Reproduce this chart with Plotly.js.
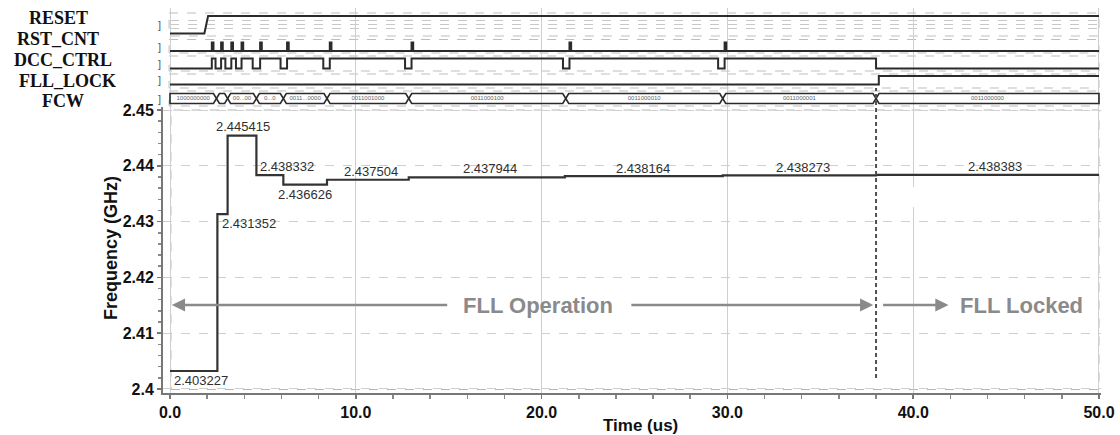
<!DOCTYPE html>
<html><head><meta charset="utf-8">
<script src="https://cdn.plot.ly/plotly-3.0.1.min.js"></script>
<style>html,body{margin:0;padding:0;background:#fff}#chart{width:1120px;height:435px}</style>
</head><body><div id="chart"></div>
<script>
// ---------------- data ----------------
const stepTimes = [0, 2.55, 3.1, 4.65, 6.1, 8.45, 12.85, 21.25, 29.75, 38.0, 50];
const freqGHz   = [2.403227, 2.431352, 2.445415, 2.438332, 2.436626, 2.437504, 2.437944, 2.438164, 2.438273, 2.438383, 2.438383];

const resetTimes  = [0, 1.85, 2.05, 50];
const resetLevels = [0, 0, 1, 1];

const rstCntPulseTimes = [2.25, 2.75, 3.3, 3.85, 4.85, 6.3, 8.6, 13.0, 21.5, 29.85];

const dccTimes  = [0, 2.25, 2.45, 2.75, 2.98, 3.3, 3.55, 3.85, 4.45, 4.85, 5.95, 6.3, 8.25, 8.6, 12.65, 13.0, 21.15, 21.5, 29.5, 29.85, 38.0, 50];
const dccLevels = [0, 1, 0, 1, 0, 1, 0, 1, 0, 1, 0, 1, 0, 1, 0, 1, 0, 1, 0, 1, 0, 0];

const fllLockTimes  = [0, 38.15, 50];
const fllLockLevels = [0, 1, 1];

const fcwEdges = [0, 2.5, 3.1, 4.65, 6.1, 8.45, 12.85, 21.3, 29.75, 38.0, 50];
const fcwWords = ["1000000000", "", "00...00", "0...0", "0011...0000", "0011001000", "0011000100", "0011000010", "0011000001", "0011000000"];

const signalNames = ["RESET", "RST_CNT", "DCC_CTRL", "FLL_LOCK", "FCW"];
const phaseLabels = ["FLL Operation", "FLL Locked"];
const lockTime = 38.0;

// ---------------- layout helpers (pixel geometry of the figure) ----------------
const W = 1120, H = 435;
const M = {l: 163, r: 19, t: 8, b: 42};
const plotH = H - M.t - M.b, plotW = W - M.l - M.r;
const py = p => (H - M.b - p) / plotH;       // pixel y -> paper y
const px = p => (p - M.l) / plotW;           // pixel x -> paper x

// rows of the waveform panel (yaxis2 uses a pixel-like reversed range)
const rows = {
  RESET:    {lo: 33.5, hi: 16, box: [13, 36], labelY: 18, labelX: 58},
  RST_CNT:  {lo: 51, hi: 42.5, box: [39.5, 53], labelY: 39.5, labelX: 58},
  DCC_CTRL: {lo: 68.5, hi: 58.5, box: [56, 71], labelY: 60.5, labelX: 63},
  FLL_LOCK: {lo: 84.5, hi: 76, box: [74, 88], labelY: 80.5, labelX: 67},
  FCW:      {lo: 103.5, hi: 93.5, box: [91, 106], labelY: 101, labelX: 63}
};
const lvl = (row, arr) => arr.map(v => v ? row.hi : row.lo);
const sigLine = {color: '#2b2b2b', width: 2};

const traces = [];
// frequency
traces.push({x: stepTimes, y: freqGHz, type: 'scatter', mode: 'lines',
  line: {shape: 'hv', color: '#333', width: 2.2}, xaxis: 'x', yaxis: 'y', hoverinfo: 'skip'});

// RESET
traces.push({x: resetTimes, y: lvl(rows.RESET, resetLevels), mode: 'lines', line: sigLine, xaxis: 'x', yaxis: 'y2', hoverinfo: 'skip'});

// RST_CNT pulses
const pulseW = 0.09;
const rx = [0], rv = [0];
rstCntPulseTimes.forEach(t => { rx.push(t, t + pulseW); rv.push(1, 0); });
rx.push(50); rv.push(0);
traces.push({x: rx, y: lvl(rows.RST_CNT, rv), mode: 'lines', line: Object.assign({shape: 'hv'}, sigLine), xaxis: 'x', yaxis: 'y2', hoverinfo: 'skip'});

// DCC_CTRL
traces.push({x: dccTimes, y: lvl(rows.DCC_CTRL, dccLevels), mode: 'lines', line: Object.assign({shape: 'hv'}, sigLine), xaxis: 'x', yaxis: 'y2', hoverinfo: 'skip'});

// FLL_LOCK
traces.push({x: fllLockTimes, y: lvl(rows.FLL_LOCK, fllLockLevels), mode: 'lines', line: Object.assign({shape: 'hv'}, sigLine), xaxis: 'x', yaxis: 'y2', hoverinfo: 'skip'});

// FCW bus
const fr = rows.FCW, mid = (fr.hi + fr.lo) / 2, d = 0.16;
const bx = [], by = [], tx = [], ty = [];
for (let i = 0; i < fcwWords.length; i++) {
  const a = fcwEdges[i], b = fcwEdges[i + 1];
  const dl = i === 0 ? 0 : d, dr = i === fcwWords.length - 1 ? 0 : d;
  bx.push(a, a + dl, b - dr, b, b - dr, a + dl, a, null);
  by.push(mid, fr.hi, fr.hi, mid, fr.lo, fr.lo, mid, null);
  tx.push((a + b) / 2); ty.push(mid);
}
traces.push({x: bx, y: by, mode: 'lines', line: {color: '#2b2b2b', width: 1.6}, xaxis: 'x', yaxis: 'y2', hoverinfo: 'skip', connectgaps: false});
traces.push({x: tx, y: ty, mode: 'text', text: fcwWords, textposition: 'middle center',
  textfont: {family: 'Arial, Liberation Sans, sans-serif', size: 6, color: '#666'}, xaxis: 'x', yaxis: 'y2', hoverinfo: 'skip'});

// ---------------- annotations ----------------
const ann = [];
// frequency value labels (positions in data units)
const labelPos = [
  {x: 0.1,  y: 2.40155, anchor: 'left'},
  {x: 4.25, y: 2.42975, anchor: 'center'},
  {x: 3.92, y: 2.44700, anchor: 'center'},
  {x: 6.29, y: 2.43996, anchor: 'center'},
  {x: 7.26, y: 2.43477, anchor: 'center'},
  {x: 10.8, y: 2.43907, anchor: 'center'},
  {x: 17.2, y: 2.43943, anchor: 'center'},
  {x: 25.45, y: 2.43950, anchor: 'center'},
  {x: 34.05, y: 2.43975, anchor: 'center'},
  {x: 44.4, y: 2.43995, anchor: 'center'}
];
labelPos.forEach((p, i) => ann.push({x: p.x, y: p.y, xref: 'x', yref: 'y', text: freqGHz[i].toFixed(6),
  showarrow: false, xanchor: p.anchor, yanchor: 'middle',
  font: {family: 'Arial, Liberation Sans, sans-serif', size: 13, color: '#2f2f2f'}}));

// phase arrows and labels
const arrowY = 2.41505, gray = '#8a8a8a';
const arrowDef = [[0.1, 15.0], [37.85, 24.75], [41.9, 38.3]];
arrowDef.forEach(([head, tail]) => ann.push({x: head, y: arrowY, ax: tail, ay: arrowY, xref: 'x', yref: 'y', axref: 'x', ayref: 'y',
  text: '', showarrow: true, arrowhead: 2, arrowsize: 1.1, arrowwidth: 2.4, arrowcolor: gray}));
ann.push({x: 19.8, y: arrowY, xref: 'x', yref: 'y', text: phaseLabels[0], showarrow: false, xanchor: 'center', yanchor: 'middle',
  font: {family: 'Arial, Liberation Sans, sans-serif', size: 22, color: gray, weight: 'bold'}});
ann.push({x: 45.85, y: arrowY, xref: 'x', yref: 'y', text: phaseLabels[1], showarrow: false, xanchor: 'center', yanchor: 'middle',
  font: {family: 'Arial, Liberation Sans, sans-serif', size: 22, color: gray, weight: 'bold'}});

// signal names
signalNames.forEach(n => {
  const r = rows[n];
  ann.push({x: px(r.labelX), y: py(r.labelY), xref: 'paper', yref: 'paper', text: '<b>' + n + '</b>', showarrow: false,
    xanchor: 'center', yanchor: 'middle', font: {family: 'Liberation Serif, Times New Roman, serif', size: 18, color: '#111'}});
  ann.push({x: px(159), y: py((r.hi + r.lo) / 2), xref: 'paper', yref: 'paper', text: ']', showarrow: false,
    xanchor: 'center', yanchor: 'middle', font: {family: 'Arial, sans-serif', size: 11, color: '#555'}});
});

// axis titles
ann.push({x: px(111), y: py(248), xref: 'paper', yref: 'paper', text: '<b>Frequency (GHz)</b>', textangle: -90,
  xanchor: 'center', yanchor: 'middle',
  showarrow: false, font: {family: 'Arial, Liberation Sans, sans-serif', size: 18, color: '#111'}});
ann.push({x: px(640), y: py(426), xref: 'paper', yref: 'paper', text: '<b>Time (us)</b>',
  xanchor: 'center', yanchor: 'middle',
  showarrow: false, font: {family: 'Arial, Liberation Sans, sans-serif', size: 17, color: '#111'}});

// ---------------- shapes ----------------
const shapes = [];
// frequency panel frame
shapes.push({type: 'rect', xref: 'x', yref: 'y', x0: 0.05, x1: 50.0, y0: 2.3999, y1: 2.45,
  line: {color: '#b5b5b5', width: 1, dash: 'dash'}, layer: 'below'});
// small break in the 40 us grid line (as in the capture)
shapes.push({type: 'rect', xref: 'x', yref: 'paper', x0: 39.85, x1: 40.15, y0: py(207), y1: py(187),
  fillcolor: '#fff', line: {width: 0}, layer: 'above'});
// waveform row boxes
signalNames.forEach(n => {
  const r = rows[n];
  shapes.push({type: 'rect', xref: 'x', yref: 'y2', x0: -0.05, x1: 50.0, y0: r.box[0], y1: r.box[1],
    line: {color: '#bdbdbd', width: 1, dash: 'dash'}, layer: 'below'});
});
[20.5, 24.5, 28.5].forEach(p => shapes.push({type: 'line', xref: 'x', yref: 'y2', x0: 0, x1: 50, y0: p, y1: p,
  line: {color: '#c8c8c8', width: 1, dash: 'dash'}, layer: 'below'}));
// lock marker
shapes.push({type: 'line', xref: 'x', yref: 'paper', x0: lockTime, x1: lockTime, y0: py(378), y1: py(88),
  line: {color: '#505050', width: 2, dash: '4px,3px'}});

const axisFont = {family: 'Arial, Liberation Sans, sans-serif', size: 16, color: '#111', weight: 'bold'};
const layout = {
  width: W, height: H, margin: M, paper_bgcolor: '#fff', plot_bgcolor: '#fff', showlegend: false,
  xaxis: {range: [-0.377, 50.108], tickvals: [0, 10, 20, 30, 40, 50], tickformat: '.1f', tickfont: axisFont,
    showgrid: true, gridcolor: '#cfcfcf', gridwidth: 1, zeroline: false,
    showline: true, linecolor: '#777', linewidth: 2, ticks: 'outside', ticklen: 4, tickcolor: '#777', tickwidth: 1.5,
    minor: {dtick: 2, ticks: 'outside', ticklen: 4, tickcolor: '#888', showgrid: false}, anchor: 'y', fixedrange: true},
  yaxis: {domain: [0, py(107)], range: [2.39928, 2.45054], tickvals: [2.4, 2.41, 2.42, 2.43, 2.44, 2.45],
    ticktext: ['2.4', '2.41', '2.42', '2.43', '2.44', '2.45'], tickfont: axisFont,
    showgrid: true, gridcolor: '#cfcfcf', griddash: 'dash', zeroline: false,
    showline: true, linecolor: '#777', linewidth: 2, ticks: 'outside', ticklen: 4, tickcolor: '#777', tickwidth: 1.5,
    minor: {dtick: 0.002, tick0: 2.4, ticks: 'outside', ticklen: 3, tickcolor: '#888', showgrid: false}, anchor: 'x', fixedrange: true},
  yaxis2: {domain: [py(107), 1], range: [107, 8], visible: false, anchor: 'x', fixedrange: true},
  annotations: ann, shapes: shapes
};
Plotly.newPlot('chart', traces, layout, {staticPlot: true, displayModeBar: false});
</script></body></html>
